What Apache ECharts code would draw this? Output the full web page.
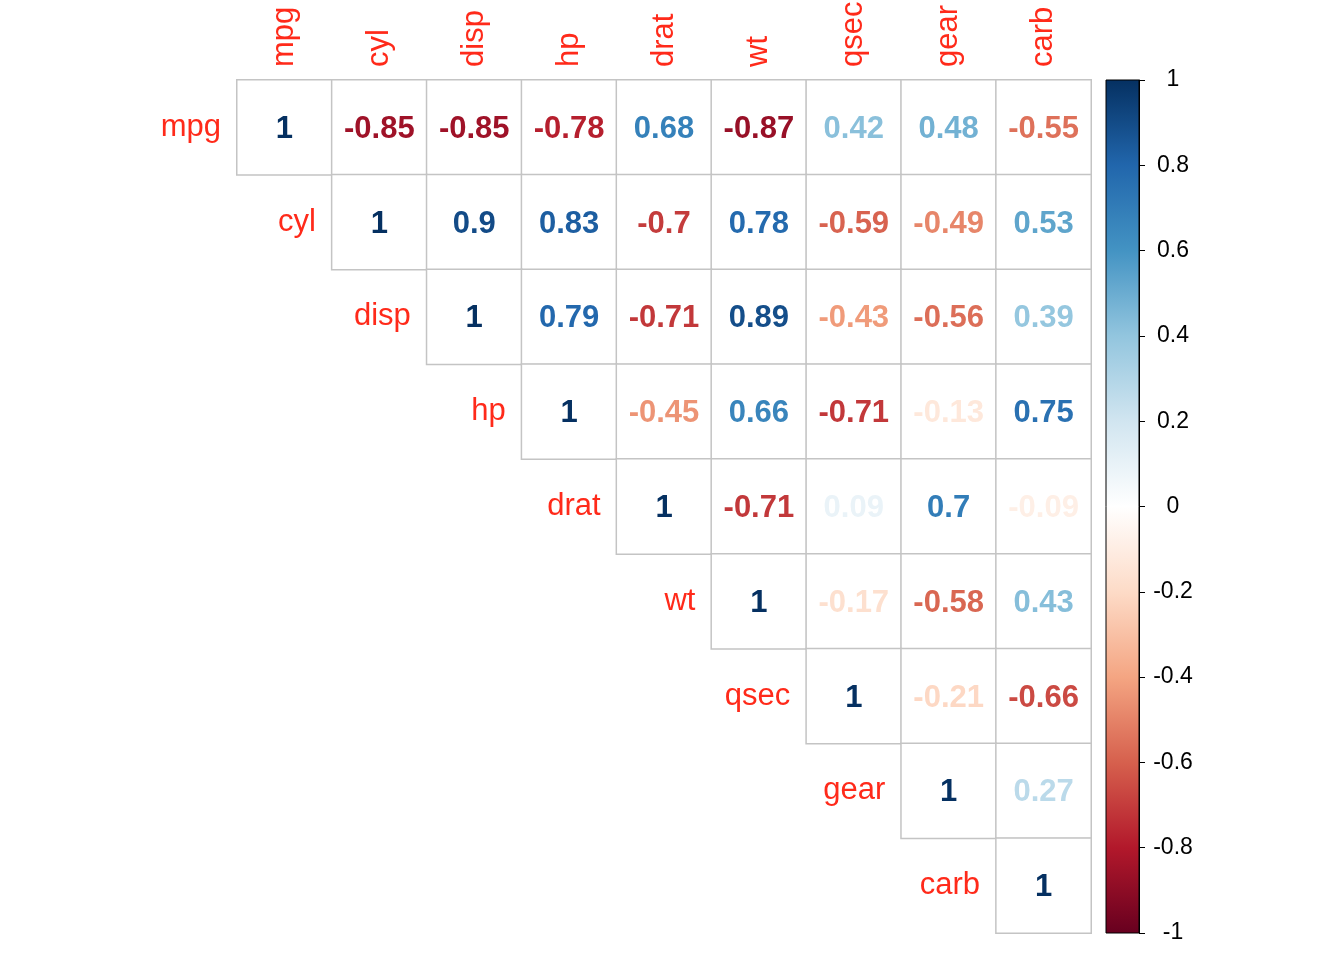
<!DOCTYPE html>
<html>
<head>
<meta charset="utf-8">
<script src="https://cdn.jsdelivr.net/npm/echarts@6/dist/echarts.min.js"></script>
<style>
  html, body { margin: 0; padding: 0; background: #fff; }
  #corrplot { width: 1344px; height: 960px; }
</style>
</head>
<body>
<div id="corrplot"></div>
<script>
// variable names (rows and columns)
const vars = ['mpg', 'cyl', 'disp', 'hp', 'drat', 'wt', 'qsec', 'gear', 'carb'];

// upper triangle of the correlation matrix, each row starts at the diagonal
const mpgRow  = [1, -0.85, -0.85, -0.78, 0.68, -0.87, 0.42, 0.48, -0.55];
const cylRow  = [1, 0.9, 0.83, -0.7, 0.78, -0.59, -0.49, 0.53];
const dispRow = [1, 0.79, -0.71, 0.89, -0.43, -0.56, 0.39];
const hpRow   = [1, -0.45, 0.66, -0.71, -0.13, 0.75];
const dratRow = [1, -0.71, 0.09, 0.7, -0.09];
const wtRow   = [1, -0.17, -0.58, 0.43];
const qsecRow = [1, -0.21, -0.66];
const gearRow = [1, 0.27];
const carbRow = [1];
const rows = [mpgRow, cylRow, dispRow, hpRow, dratRow, wtRow, qsecRow, gearRow, carbRow];

// colour bar tick labels
const barTicks = [1, 0.8, 0.6, 0.4, 0.2, 0, -0.2, -0.4, -0.6, -0.8, -1];

// RdBu palette from -1 to 1
const palette = ['#67001F', '#B2182B', '#D6604D', '#F4A582', '#FDDBC7', '#FFFFFF',
                 '#D1E5F0', '#92C5DE', '#4393C3', '#2166AC', '#053061'];

function hexToRgb(h) {
  return [parseInt(h.slice(1, 3), 16), parseInt(h.slice(3, 5), 16), parseInt(h.slice(5, 7), 16)];
}
function colorFor(v) {
  const t = (v + 1) / 2 * (palette.length - 1);
  const i = Math.min(Math.floor(t), palette.length - 2);
  const f = t - i;
  const a = hexToRgb(palette[i]), b = hexToRgb(palette[i + 1]);
  const c = a.map((x, k) => Math.round(x + (b[k] - x) * f));
  return 'rgb(' + c.join(',') + ')';
}

const labelRed = '#ff2a1a';

const cells = [];
rows.forEach((r, i) => {
  r.forEach((v, k) => {
    const j = i + k;
    cells.push({
      value: [j, i, v],
      label: { color: colorFor(v) }
    });
  });
});

const rowLabels = vars.map((name, i) => [i, i, name]);

const chart = echarts.init(document.getElementById('corrplot'));
chart.setOption({
  backgroundColor: '#fff',
  animation: false,
  grid: [
    { left: 237, right: 253, top: 80, bottom: 27, outerBoundsMode: 'none', containLabel: false },
    {
      left: 1106, width: 33, top: 80, bottom: 27,
      outerBoundsMode: 'none', containLabel: false,
      show: true,
      borderColor: '#000', borderWidth: 1,
      backgroundColor: new echarts.graphic.LinearGradient(0, 0, 0, 1,
        palette.slice().reverse().map((c, k) => ({ offset: k / (palette.length - 1), color: c })))
    }
  ],
  xAxis: [
    {
      gridIndex: 0, type: 'category', data: vars, position: 'top',
      axisLine: { show: false }, axisTick: { show: false }, splitLine: { show: false },
      axisLabel: {
        rotate: -90, margin: 13, color: labelRed,
        fontFamily: 'Liberation Sans', fontSize: 31
      }
    },
    { gridIndex: 1, type: 'category', data: [''], show: false }
  ],
  yAxis: [
    {
      gridIndex: 0, type: 'category', data: vars, inverse: true,
      axisLine: { show: false }, axisTick: { show: false },
      axisLabel: { show: false }, splitLine: { show: false }
    },
    {
      gridIndex: 1, type: 'value', min: -1, max: 1, interval: 0.2, position: 'right',
      axisLine: { show: true, lineStyle: { color: '#000', width: 1 } },
      axisTick: { show: true, length: 6, lineStyle: { color: '#000' } },
      splitLine: { show: false },
      axisLabel: {
        margin: 34, align: 'center', color: '#000',
        fontFamily: 'Liberation Sans', fontSize: 23,
        padding: [4, 0, 0, 0],
        formatter: v => {
          const t = barTicks.find(x => Math.abs(x - v) < 1e-6);
          return t === undefined ? '' : String(t);
        }
      }
    }
  ],
  series: [
    {
      type: 'heatmap',
      xAxisIndex: 0, yAxisIndex: 0,
      data: cells,
      itemStyle: { color: '#fff', borderColor: '#c4c4c4', borderWidth: 1.5 },
      label: {
        show: true,
        offset: [0, 2],
        formatter: p => String(p.value[2]),
        fontFamily: 'Liberation Sans', fontWeight: 'bold', fontSize: 31
      },
      emphasis: { disabled: true }
    },
    {
      type: 'custom',
      xAxisIndex: 0, yAxisIndex: 0,
      data: rowLabels,
      silent: true,
      renderItem: (params, api) => {
        const pt = api.coord([api.value(0), api.value(1)]);
        const size = api.size([1, 1]);
        return {
          type: 'text',
          style: {
            text: vars[api.value(0)],
            x: pt[0] - size[0] / 2 - 16,
            y: pt[1],
            align: 'right',
            verticalAlign: 'middle',
            fill: labelRed,
            font: '31px "Liberation Sans"'
          }
        };
      }
    }
  ]
});
</script>
</body>
</html>
